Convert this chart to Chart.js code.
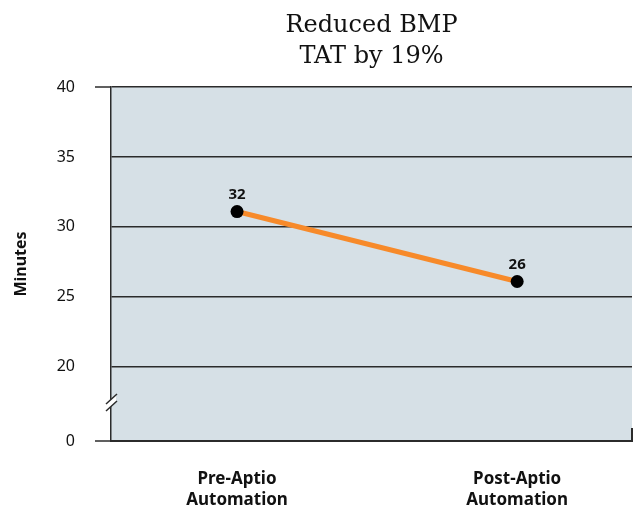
<!DOCTYPE html>
<html>
<head>
<meta charset="utf-8">
<script src="https://cdn.jsdelivr.net/npm/chart.js@4/dist/chart.umd.min.js"></script>
<style>
  body { margin: 0; background: #fff; }
  #wrap { width: 640px; height: 511px; }
</style>
</head>
<body>
<div id="wrap"><canvas id="myChart" width="640" height="511"></canvas></div>
<script>
// chart data
const categories = [['Pre-Aptio', 'Automation'], ['Post-Aptio', 'Automation']];
const categoryPos = [1, 2];
const minutes = [31.1, 26.1];
const pointLabels = ['32', '26'];
const titleLines = ['Reduced BMP', 'TAT by 19%'];
// axis has a break: the bottom tick (drawn at 14.7) stands for 0
const yTicks = [14.7, 20, 25, 30, 35, 40];
const yTickLabels = ['0', '20', '25', '30', '35', '40'];

const axisColor = '#2b2b2b';
const sansFont = '"Noto Sans", "Open Sans", sans-serif';

const plotBg = {
  id: 'plotBg',
  beforeDraw(chart) {
    const { ctx, chartArea } = chart;
    ctx.save();
    ctx.fillStyle = '#d6e0e6';
    ctx.fillRect(chartArea.left, chartArea.top, chartArea.right - chartArea.left, chartArea.bottom - chartArea.top);
    ctx.restore();
  }
};

const extras = {
  id: 'extras',
  afterDraw(chart) {
    const { ctx, chartArea } = chart;
    const y = chart.scales.y;
    ctx.save();
    // title
    ctx.fillStyle = '#111';
    ctx.font = '24px "DejaVu Serif", serif';
    ctx.textAlign = 'center';
    ctx.textBaseline = 'middle';
    const cx = (chartArea.left + chartArea.right) / 2;
    ctx.fillText(titleLines[0], cx, 26);
    ctx.fillText(titleLines[1], cx, 57);

    // left ticks at top and bottom
    ctx.strokeStyle = axisColor;
    ctx.lineWidth = 1.5;
    [yTicks[0], yTicks[yTicks.length - 1]].forEach((v) => {
      const py = y.getPixelForValue(v);
      ctx.beginPath();
      ctx.moveTo(chartArea.left - 16, py);
      ctx.lineTo(chartArea.left, py);
      ctx.stroke();
    });
    // right end tick
    ctx.lineWidth = 2;
    ctx.beginPath();
    ctx.moveTo(chartArea.right, chartArea.bottom - 13);
    ctx.lineTo(chartArea.right, chartArea.bottom);
    ctx.stroke();

    // axis break
    const by = y.getPixelForValue(17.2);
    const bx = chartArea.left;
    ctx.fillStyle = '#fff';
    ctx.beginPath();
    ctx.moveTo(bx - 5, by - 2);
    ctx.lineTo(bx + 5, by - 11);
    ctx.lineTo(bx + 5, by - 4);
    ctx.lineTo(bx - 5, by + 5);
    ctx.closePath();
    ctx.fill();
    ctx.lineWidth = 1.5;
    ctx.strokeStyle = axisColor;
    ctx.beginPath();
    ctx.moveTo(bx - 5, by - 2);
    ctx.lineTo(bx + 6, by - 12);
    ctx.moveTo(bx - 5, by + 5);
    ctx.lineTo(bx + 6, by - 5);
    ctx.stroke();
    ctx.restore();
  },
  afterDatasetsDraw(chart) {
    const { ctx } = chart;
    const meta = chart.getDatasetMeta(0);
    ctx.save();
    ctx.fillStyle = '#111';
    ctx.font = 'bold 15px ' + sansFont;
    ctx.textAlign = 'center';
    ctx.textBaseline = 'bottom';
    meta.data.forEach((pt, i) => {
      ctx.fillText(pointLabels[i], pt.x, pt.y - 9);
    });
    ctx.restore();
  }
};

const ctx = document.getElementById('myChart').getContext('2d');
new Chart(ctx, {
  type: 'line',
  data: {
    datasets: [{
      data: categoryPos.map((x, i) => ({ x: x, y: minutes[i] })),
      borderColor: '#f78a2a',
      borderWidth: 5,
      pointRadius: 6.5,
      pointBackgroundColor: '#000',
      pointBorderColor: '#000',
      pointBorderWidth: 0,
      tension: 0
    }]
  },
  options: {
    responsive: false,
    animation: false,
    layout: { padding: { top: 87, right: 8, left: 0, bottom: 0 } },
    plugins: {
      legend: { display: false },
      tooltip: { enabled: false }
    },
    scales: {
      x: {
        type: 'linear',
        min: 0.55,
        max: 2.41,
        afterBuildTicks: (scale) => { scale.ticks = categoryPos.map((v) => ({ value: v })); },
        afterFit: (scale) => { scale.height = 70; },
        grid: { display: false },
        border: { display: true, color: axisColor, width: 2 },
        ticks: {
          padding: 20,
          color: '#111',
          font: { family: sansFont, size: 17, weight: 'bold', lineHeight: 1.22 },
          callback: (v) => categories[categoryPos.indexOf(v)]
        }
      },
      y: {
        min: 14.7,
        max: 40,
        afterBuildTicks: (scale) => { scale.ticks = yTicks.map((v) => ({ value: v })); },
        afterFit: (scale) => { scale.width = 111; },
        grid: { color: axisColor, lineWidth: 1.5, drawTicks: false },
        border: { display: true, color: axisColor, width: 1.5 },
        title: {
          display: true,
          text: 'Minutes',
          color: '#111',
          font: { family: sansFont, size: 16, weight: 'bold' },
          padding: { top: 12, bottom: 0 }
        },
        ticks: {
          padding: 36,
          color: '#111',
          font: { family: sansFont, size: 16 },
          callback: (v) => yTickLabels[yTicks.indexOf(v)]
        }
      }
    }
  },
  plugins: [plotBg, extras]
});
</script>
</body>
</html>
